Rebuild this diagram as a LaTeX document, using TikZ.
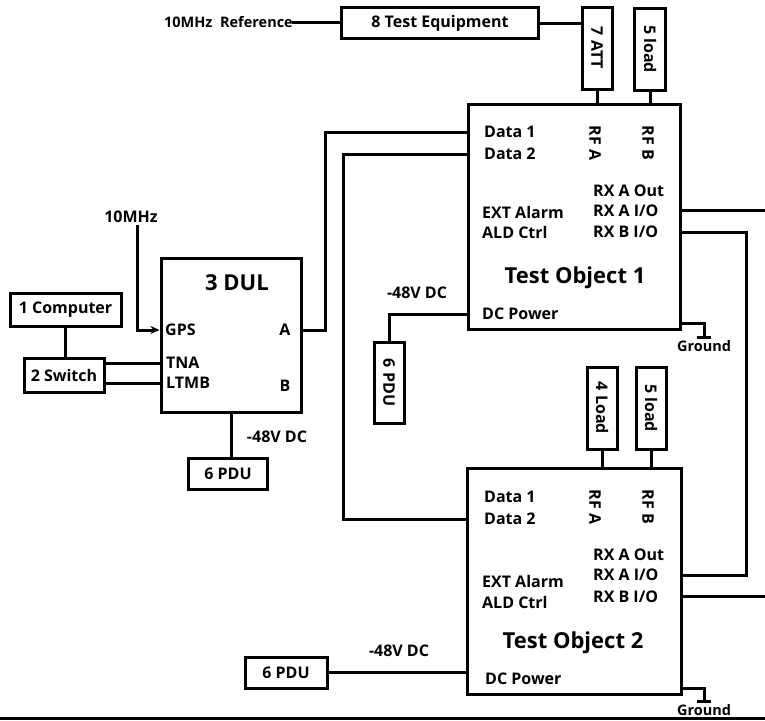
\documentclass[tikz,border=0pt]{standalone}
\usepackage{fontspec}
\setmainfont{Open Sans}
\usepackage{tikz}
\usetikzlibrary{arrows.meta,positioning,calc}
\tikzset{
  box/.style={rectangle, draw, line width=3pt, fill=white, inner sep=0pt,
              align=center, font=\bfseries\fontsize{16}{18}\selectfont},
  lbl/.style={inner sep=0pt, font=\bfseries\fontsize{16}{18}\selectfont},
  port/.style={lbl, anchor=west},
  title/.style={inner sep=0pt, font=\bfseries\fontsize{22}{24}\selectfont},
  small/.style={inner sep=0pt, font=\bfseries\fontsize{14.5}{16}\selectfont},
  wire/.style={line width=3pt, line cap=rect},
  gnd/.style={line width=3pt},
}

\begin{document}
\begin{tikzpicture}
  \useasboundingbox (0,0) rectangle (765pt,-720pt);
  \begin{scope}[x=1pt,y=1pt]
  % equipment along the top
  \node[box, minimum width=197, minimum height=31] (teq) at (440,-23) {8 Test Equipment};
  \node[small, anchor=east] (ref) at (293,-22) {10MHz\ \ Reference};
  \node[box, minimum width=30, minimum height=82] (att) at (597,-48) {\rotatebox{-90}{7 ATT}};
  \node[box, minimum width=31, minimum height=82] (ldA) at (650,-49) {\rotatebox{-90}{5 load}};

  % test object 1
  \node[box, minimum width=212, minimum height=225] (to1) at (574,-216.5) {};
  \node[port] (t1d1) at (484,-132) {Data 1};
  \node[port] (t1d2) at (484,-154) {Data 2};
  \node[lbl] (t1rfa) at (595,-143) {\rotatebox{-90}{RF A}};
  \node[lbl] (t1rfb) at (648,-143) {\rotatebox{-90}{RF B}};
  \node[port] (t1rxo) at (593,-191) {RX A Out};
  \node[port] (t1rxa) at (593,-211) {RX A I/O};
  \node[port] (t1rxb) at (593,-232) {RX B I/O};
  \node[port] (t1ext) at (482,-212) {EXT Alarm};
  \node[port] (t1ald) at (482,-232) {ALD Ctrl};
  \node[title] (t1name) at (575,-278) {Test Object 1};
  \node[port] (t1dcp) at (482,-314) {DC Power};
  \node[lbl] (t1vdc) at (417,-293) {-48V DC};
  \node[box, minimum width=30, minimum height=81] (pduB) at (389,-382.5) {\rotatebox{-90}{6 PDU}};

  % test object 2
  \node[box, minimum width=30, minimum height=82] (ldL) at (602,-408) {\rotatebox{-90}{4 Load}};
  \node[box, minimum width=30, minimum height=82] (ldB) at (651,-408) {\rotatebox{-90}{5 load}};
  \node[box, minimum width=214, minimum height=226] (to2) at (574,-581) {};
  \node[port] (t2d1) at (484,-497) {Data 1};
  \node[port] (t2d2) at (484,-519) {Data 2};
  \node[lbl] (t2rfa) at (595,-507) {\rotatebox{-90}{RF A}};
  \node[lbl] (t2rfb) at (648,-507) {\rotatebox{-90}{RF B}};
  \node[port] (t2rxo) at (593,-555) {RX A Out};
  \node[port] (t2rxa) at (593,-575) {RX A I/O};
  \node[port] (t2rxb) at (593,-597) {RX B I/O};
  \node[port] (t2ext) at (482,-581) {EXT Alarm};
  \node[port] (t2ald) at (482,-602) {ALD Ctrl};
  \node[title] (t2name) at (573,-643) {Test Object 2};
  \node[port] (t2dcp) at (485,-679) {DC Power};
  \node[lbl] (t2vdc) at (399,-651) {-48V DC};
  \node[box, minimum width=82, minimum height=31] (pduC) at (286,-672.5) {6 PDU};

  % DUL side
  \node[box, minimum width=140, minimum height=154] (dul) at (231,-335) {};
  \node[title] (dulname) at (237,-283) {3 DUL};
  \node[port] (gps) at (165,-330) {GPS};
  \node[port] (tna) at (166,-363) {TNA};
  \node[port] (ltmb) at (166,-383) {LTMB};
  \node[lbl] (pa) at (285,-330) {A};
  \node[lbl] (pb) at (285,-386) {B};
  \node[lbl] (mhz) at (131,-217) {10MHz};
  \node[lbl] (dulvdc) at (277,-437) {-48V DC};
  \node[box, minimum width=111, minimum height=33] (comp) at (65.5,-309.5) {1 Computer};
  \node[box, minimum width=80, minimum height=34] (sw) at (64,-375) {2 Switch};
  \node[box, minimum width=79, minimum height=31] (pduA) at (228,-473.5) {6 PDU};

  \coordinate (ex1) at (765,-210);
  \coordinate (ex2) at (765,-596);
  \coordinate (g1) at (704,-337);
  \coordinate (g2) at (704,-701);

  \draw[wire] (ref.east) -- (ref.east -| teq.west);
  \draw[wire] (teq.east) -- (teq.east -| att.west);
  \draw[wire] (att.south) -- (att.south |- to1.north);
  \draw[wire] (ldA.south) -- (ldA.south |- to1.north);
  \draw[wire] (ldL.south) -- (ldL.south |- to2.north);
  \draw[wire] (ldB.south) -- (ldB.south |- to2.north);
  \draw[wire] (dul.east |- pa) -- ++(23,0) |- (to1.west |- t1d1);
  \draw[wire] (to1.west |- t1d2) -- ++(-123,0) |- (to2.west |- t2d2);
  \draw[wire] (to1.east |- ex1) -- (ex1);
  \draw[wire] (to1.east |- t1rxb) -- ++(65,0) |- (to2.east |- t2rxa);
  \draw[wire] (to2.east |- ex2) -- (ex2);
  \draw[wire] (to1.west |- t1dcp) -| (pduB.north);
  \draw[wire] (pduC.east) -- (pduC.east -| to2.west);
  \draw[wire] (dul.south) -- (dul.south |- pduA.north);
  \draw[wire] (comp.south) -- (comp.south |- sw.north);
  \draw[wire] (sw.east |- tna) -- (dul.west |- tna);
  \draw[wire] (sw.east |- ltmb) -- (dul.west |- ltmb);
  \draw[wire, line cap=butt, -{Stealth[length=9pt,width=8pt]}] ($(mhz.south)+(6,-2)$) |- (dul.west |- gps);

  \draw[gnd] (to1.east |- 0,-323) -| (g1);
  \draw[gnd] ($(g1)+(-7,0)$) -- ($(g1)+(7,0)$);
  \node[small, below=3pt of g1] (gl1) {Ground};
  \draw[gnd] (to2.east |- 0,-688) -| (g2);
  \draw[gnd] ($(g2)+(-7,0)$) -- ($(g2)+(7,0)$);
  \node[small, below=3pt of g2] (gl2) {Ground};

  \draw[line width=3pt] (0,-718) -- (765,-718);
  \end{scope}
\end{tikzpicture}
\end{document}
